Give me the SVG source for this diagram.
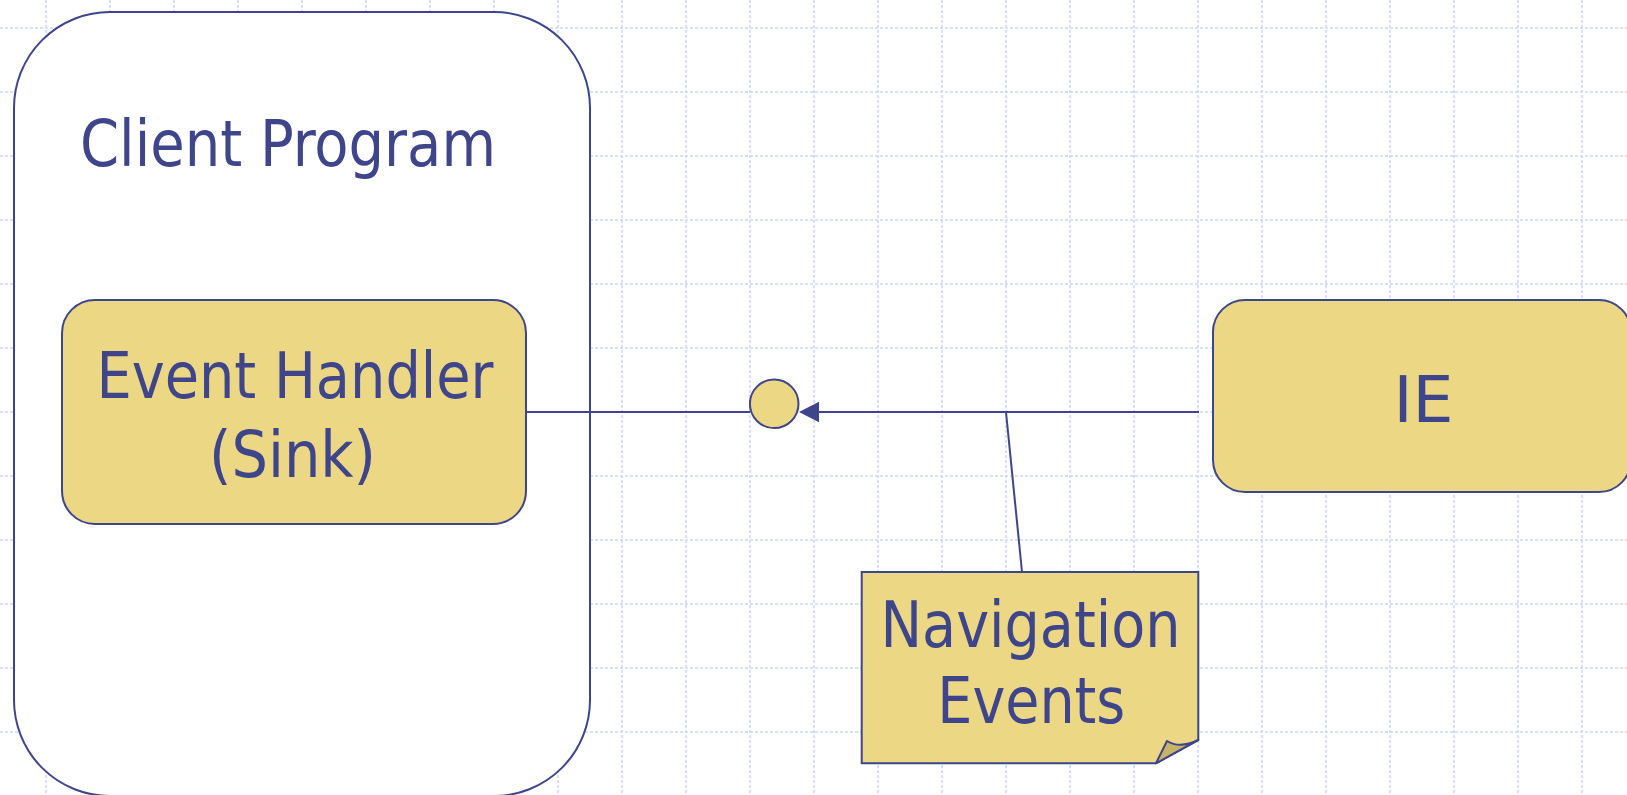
<svg xmlns="http://www.w3.org/2000/svg" width="1627" height="795" viewBox="0 0 1627 795">
<defs>
<style>
.grid line{stroke:#c9d7f6;stroke-width:1.5;stroke-dasharray:3 2;}
.box{stroke:#3f458a;stroke-width:2;}
.yel{fill:#ebd784;}
.t{font-family:"DejaVu Sans Condensed","DejaVu Sans",sans-serif;font-size:64px;fill:#3f458a;text-anchor:middle;}
.conn{stroke:#3f458a;stroke-width:2;fill:none;}
</style>
</defs>
<rect x="0" y="0" width="1627" height="795" fill="#ffffff"/>
<g class="grid">
<line x1="0" y1="28" x2="1627" y2="28"/><line x1="0" y1="92" x2="1627" y2="92"/><line x1="0" y1="156" x2="1627" y2="156"/><line x1="0" y1="220" x2="1627" y2="220"/><line x1="0" y1="284" x2="1627" y2="284"/><line x1="0" y1="348" x2="1627" y2="348"/><line x1="0" y1="412" x2="1627" y2="412"/><line x1="0" y1="476" x2="1627" y2="476"/><line x1="0" y1="540" x2="1627" y2="540"/><line x1="0" y1="604" x2="1627" y2="604"/><line x1="0" y1="668" x2="1627" y2="668"/><line x1="0" y1="732" x2="1627" y2="732"/>
<line x1="46" y1="0" x2="46" y2="795"/><line x1="110" y1="0" x2="110" y2="795"/><line x1="174" y1="0" x2="174" y2="795"/><line x1="238" y1="0" x2="238" y2="795"/><line x1="302" y1="0" x2="302" y2="795"/><line x1="366" y1="0" x2="366" y2="795"/><line x1="430" y1="0" x2="430" y2="795"/><line x1="494" y1="0" x2="494" y2="795"/><line x1="558" y1="0" x2="558" y2="795"/><line x1="622" y1="0" x2="622" y2="795"/><line x1="686" y1="0" x2="686" y2="795"/><line x1="750" y1="0" x2="750" y2="795"/><line x1="814" y1="0" x2="814" y2="795"/><line x1="878" y1="0" x2="878" y2="795"/><line x1="942" y1="0" x2="942" y2="795"/><line x1="1006" y1="0" x2="1006" y2="795"/><line x1="1070" y1="0" x2="1070" y2="795"/><line x1="1134" y1="0" x2="1134" y2="795"/><line x1="1198" y1="0" x2="1198" y2="795"/><line x1="1262" y1="0" x2="1262" y2="795"/><line x1="1326" y1="0" x2="1326" y2="795"/><line x1="1390" y1="0" x2="1390" y2="795"/><line x1="1454" y1="0" x2="1454" y2="795"/><line x1="1518" y1="0" x2="1518" y2="795"/><line x1="1582" y1="0" x2="1582" y2="795"/>
</g>
<g id="client-program">
<rect class="box" x="14" y="12" width="576" height="784" rx="96" ry="96" fill="#ffffff"/>
<text class="t" x="288" y="165.5" textLength="416" lengthAdjust="spacingAndGlyphs">Client Program</text>
</g>
<g id="connectors">
<line class="conn" x1="526" y1="412" x2="750" y2="412"/>
<line class="conn" x1="817" y1="412" x2="1199" y2="412"/>
<polygon points="799,412 819,401.7 819,422.3" fill="#3f458a"/>
<line class="conn" x1="1006" y1="412" x2="1022" y2="572"/>
</g>
<g id="event-handler">
<rect class="box yel" x="62" y="300" width="464" height="224" rx="33" ry="33"/>
<text class="t" x="295" y="398.3" textLength="397" lengthAdjust="spacingAndGlyphs">Event Handler</text>
<text class="t" x="292.5" y="476.5" textLength="167" lengthAdjust="spacingAndGlyphs">(Sink)</text>
</g>
<g id="sink-interface">
<circle class="box yel" cx="774.2" cy="403.8" r="24.3"/>
</g>
<g id="ie">
<rect class="box yel" x="1213" y="300" width="418" height="192" rx="32" ry="32"/>
<text class="t" x="1423.5" y="421.7" textLength="60" lengthAdjust="spacingAndGlyphs">IE</text>
</g>
<g id="navigation-events">
<path class="box yel" d="M861.7,572 L1198.3,572 L1198.3,740 L1156,763.3 L861.7,763.3 Z"/>
<path d="M1156,763.3 L1167,741 Q1180,749 1198.3,740 Z" fill="#c8b468" stroke="#3f458a" stroke-width="2" stroke-linejoin="round"/>
<text class="t" x="1030.5" y="646.7" textLength="300" lengthAdjust="spacingAndGlyphs">Navigation</text>
<text class="t" x="1031.3" y="722.7" textLength="188" lengthAdjust="spacingAndGlyphs">Events</text>
</g>
</svg>
